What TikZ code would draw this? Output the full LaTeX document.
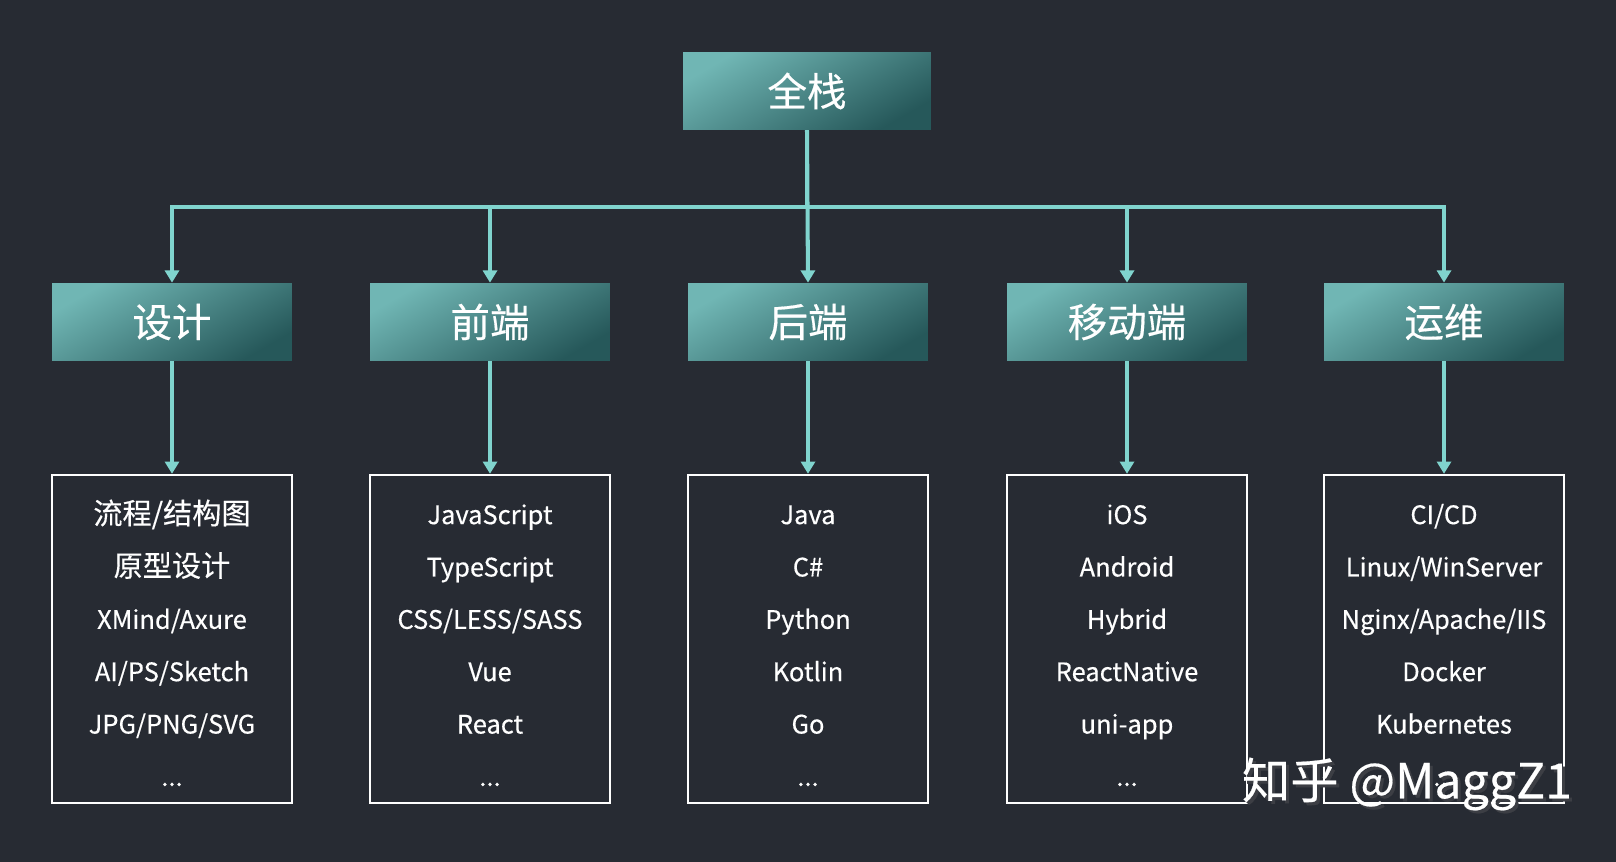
\documentclass[tikz,border=0pt]{standalone}
\usepackage{fontspec}
\setmainfont{Noto Sans CJK SC}[FakeBold=0.4]
\usetikzlibrary{arrows.meta}
\definecolor{bgdark}{RGB}{39,43,51}
\definecolor{tlight}{RGB}{112,182,180}
\definecolor{tdark}{RGB}{38,88,90}
\definecolor{tline}{RGB}{128,212,206}
\definecolor{shadowgray}{RGB}{60,62,68}
\newcommand{\lstart}{\rule{0pt}{18.4pt}}
\newcommand{\cjkline}[1]{{\fontsize{16.6}{29.8}\selectfont #1}}

\begin{document}
\begin{tikzpicture}[x=0.02cm, y=-0.02cm,
  head/.style={top color=tlight, bottom color=tdark, shading angle=30,
  minimum width=4.8cm, minimum height=1.56cm, text=white,
  font=\fontsize{22.5}{26}\selectfont},
  list/.style={draw=white, line width=1.4pt, minimum width=4.8cm,
  minimum height=6.56cm, align=center, text=white,
  font=\fontsize{14.5}{29.8}\selectfont},
  arr/.style={-{Triangle[width=8pt,length=7pt]}, line width=2.3pt, tline}
]
\fill[bgdark] (0,0) rectangle (1616,862);
% top node and headers
\node[head, minimum width=4.96cm] (full) at (807,91) {全栈};
\node[head] (design)  at (172,322)  {设计};
\node[head] (front)   at (490,322)  {前端};
\node[head] (back)    at (808,322)  {后端};
\node[head] (mobile)  at (1127,322) {移动端};
\node[head] (ops)     at (1444,322) {运维};
% lists
\node[list] (ldesign) at (172,639)  {\lstart\cjkline{流程/结构图}\\\cjkline{原型设计}\\XMind/Axure\\AI/PS/Sketch\\JPG/PNG/SVG\\...};
\node[list] (lfront)  at (490,639)  {\lstart JavaScript\\TypeScript\\CSS/LESS/SASS\\Vue\\React\\...};
\node[list] (lback)   at (808,639)  {\lstart Java\\C\#\\Python\\Kotlin\\Go\\...};
\node[list] (lmobile) at (1127,639) {\lstart iOS\\Android\\Hybrid\\ReactNative\\uni-app\\...};
\node[list] (lops)    at (1444,639) {\lstart CI/CD\\Linux/WinServer\\Nginx/Apache/IIS\\Docker\\Kubernetes\\...};
% connectors
\coordinate (bar) at (807,207);
\draw[arr] (full.south) -- (bar) -| (design.north);
\draw[arr] (full.south) -- (bar) -| (front.north);
\draw[arr] (full.south) -- (back.north);
\draw[arr] (full.south) -- (bar) -| (mobile.north);
\draw[arr] (full.south) -- (bar) -| (ops.north);
\draw[arr] (design) -- (ldesign);
\draw[arr] (front)  -- (lfront);
\draw[arr] (back)   -- (lback);
\draw[arr] (mobile) -- (lmobile);
\draw[arr] (ops)    -- (lops);
% watermark
\node[text=shadowgray, font=\fontsize{27.5}{32}\selectfont] (markshadow) at (1410,787) {知乎 @MaggZ1};
\node[text=white, font=\fontsize{27.5}{32}\selectfont] (mark) at (1407,784) {知乎 @MaggZ1};
\end{tikzpicture}
\end{document}
